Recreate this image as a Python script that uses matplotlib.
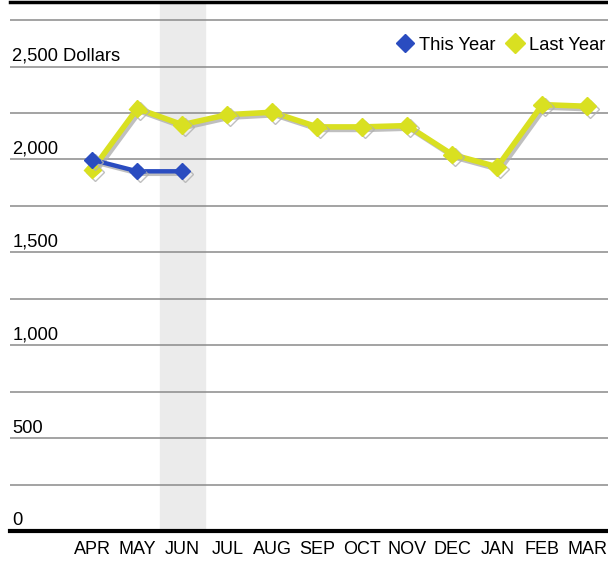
import matplotlib.pyplot as plt
import matplotlib.patheffects as pe
from matplotlib.lines import Line2D
from matplotlib.transforms import blended_transform_factory

# Dados do grafico
meses = ['APR', 'MAY', 'JUN', 'JUL', 'AUG', 'SEP', 'OCT', 'NOV', 'DEC', 'JAN', 'FEB', 'MAR']
este_ano = [1998, 1936, 1936]
ano_passado = [1945, 2274, 2187, 2241, 2254, 2175, 2175, 2182, 2026, 1960, 2295, 2286]
rotulos_y = [0, 500, 1000, 1500, 2000, 2500]
mes_destaque = 2  # JUN

azul = '#2a4cc0'
amarelo = '#d9e021'

plt.rcParams['font.family'] = ['Liberation Sans', 'DejaVu Sans']

fig = plt.figure(figsize=(6.08, 5.63), dpi=100)
ax = fig.add_axes([10 / 608, 32 / 563, 598 / 608, 529.5 / 563])

ax.set_xlim(-1.83, 11.46)
ax.set_ylim(0, 2850)

# faixa do mes atual
ax.axvspan(mes_destaque - 0.5, mes_destaque + 0.5, color='#ebebeb', zorder=0)

# linhas de grade a cada 250
for v in range(250, 2850, 250):
    ax.axhline(v, color='#8a8a8a', lw=1.1, zorder=1)

sombra = [pe.SimpleLineShadow(offset=(1.8, -1.8), shadow_color='#b0b0b0', alpha=0.8), pe.Normal()]

x_todos = list(range(len(meses)))
ax.plot(x_todos, ano_passado, color=amarelo, lw=4, marker='D', ms=9,
        mec=amarelo, zorder=3, path_effects=sombra)
ax.plot(x_todos[:len(este_ano)], este_ano, color=azul, lw=3.2, marker='D', ms=8,
        mec=azul, zorder=4, path_effects=sombra)

# rotulos do eixo y
trans = blended_transform_factory(ax.transAxes, ax.transData)
for v in rotulos_y:
    txt = f'{v:,}' + (' Dollars' if v == 2500 else '')
    ax.text(0.004, v + 30, txt, transform=trans, fontsize=13.2, va='baseline', ha='left')

ax.set_xticks(x_todos)
ax.set_xticklabels(meses, fontsize=13)
ax.tick_params(axis='x', length=0, pad=7)
ax.set_yticks([])

for lado in ['left', 'right']:
    ax.spines[lado].set_visible(False)
ax.spines['bottom'].set_linewidth(3)
ax.spines['top'].set_linewidth(2.5)
ax.spines['bottom'].set_zorder(5)

handles = [
    Line2D([], [], ls='none', marker='D', ms=9, color=azul, label='This Year'),
    Line2D([], [], ls='none', marker='D', ms=10, color=amarelo, label='Last Year'),
]
ax.legend(handles=handles, loc='upper right', bbox_to_anchor=(1.008, 0.947), ncol=2,
          frameon=False, fontsize=13.2, handletextpad=0.15, columnspacing=0.5,
          handlelength=1.2, borderaxespad=0)

fig.savefig('out.png', dpi=100)
